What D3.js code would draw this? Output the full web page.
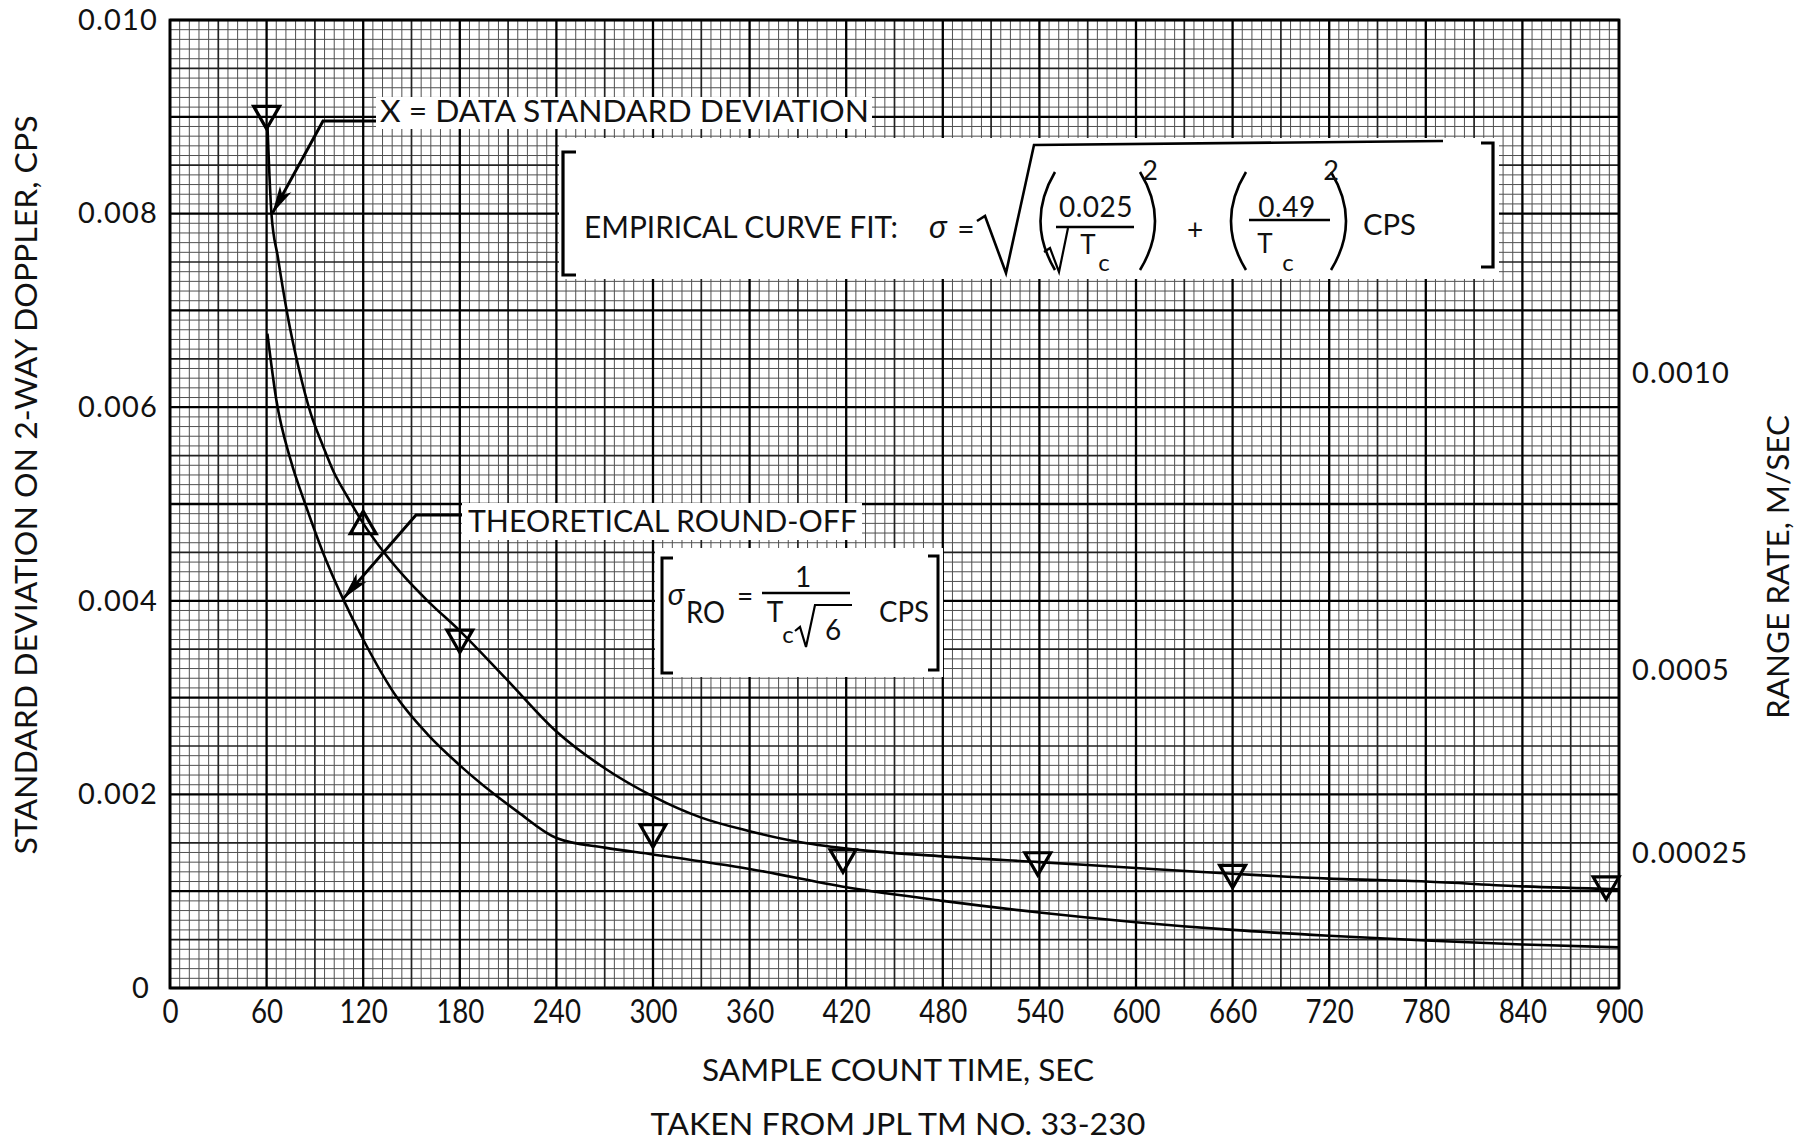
<!DOCTYPE html>
<html><head><meta charset="utf-8">
<script src="https://cdn.jsdelivr.net/npm/d3@7"></script>
<style>
body{margin:0;background:#fff}
svg{display:block}
text{font-family:Lato,"Noto Sans",sans-serif;fill:#111}
</style></head><body>
<svg id="chart" width="1805" height="1142"></svg>
<script>
// ---------- data ----------
const xTicks = [0,60,120,180,240,300,360,420,480,540,600,660,720,780,840,900];
const yTicks = [0,0.002,0.004,0.006,0.008,0.010];
const yTickLabels = ["0","0.002","0.004","0.006","0.008","0.010"];
const rightTickLabels = ["0.0010","0.0005","0.00025"];
const rightTickCps = [0.00636,0.00329,0.00140];   // CPS level at which each range-rate label sits

const empT     = [60.5,61.5,63,67,73,80,87.5,95,102,110,120,132,145,160,180,209,240,270,300,330,360,390,420,480,540,600,660,720,780,840,900];
const empSigma = [0.00892,0.00850,0.00800,0.00755,0.00695,0.00640,0.00593,0.00560,0.00532,0.00508,0.00480,0.00452,0.00426,0.00400,0.00369,0.00319,0.00265,0.00227,0.00198,0.00176,0.00162,0.00151,0.00144,0.00136,0.00130,0.00124,0.00118,0.00113,0.00110,0.00105,0.00102];

const theoT     = [60.5,66,75,84,95,107.5,120,141,160,180,216,240,270,300,360,420,480,540,600,660,720,780,840,900];
const theoSigma = [0.00676,0.00608,0.00545,0.00500,0.00450,0.00402,0.00360,0.00300,0.00262,0.00230,0.00182,0.00155,0.00145,0.00138,0.00123,0.00104,0.00090,0.00078,0.00068,0.00060,0.00054,0.00049,0.00045,0.00042];

const markerT     = [60,120,180,300,418,539,660,892];
const markerSigma = [0.00903,0.00477,0.00362,0.00161,0.00135,0.00132,0.00119,0.00107];
const markerDir   = ["down","up","down","down","down","down","down","down"];

// ---------- layout ----------
const svg = d3.select("#chart");
const x = d3.scaleLinear().domain([0,900]).range([170,1619]);
const y = d3.scaleLinear().domain([0,0.010]).range([988,20]);

// ---------- grid ----------
const grid = svg.append("g");
const minorX = d3.range(0,900.001,6), minorY = d3.range(0,0.0100001,0.0001);
function level(i){ return i%10===0 ? 2 : (i%5===0 ? 1 : 0); }
const styles = [{c:"#505050",w:1},{c:"#222",w:1.7},{c:"#000",w:2.3}];
[0,1,2].forEach(L=>{
  minorX.forEach((v,i)=>{ if(level(i)!==L) return;
    grid.append("line").attr("x1",x(v)).attr("x2",x(v)).attr("y1",y(0)).attr("y2",y(0.010))
      .attr("stroke",styles[L].c).attr("stroke-width",styles[L].w);
  });
  minorY.forEach((v,i)=>{ if(level(i)!==L) return;
    grid.append("line").attr("y1",y(v)).attr("y2",y(v)).attr("x1",x(0)).attr("x2",x(900))
      .attr("stroke",styles[L].c).attr("stroke-width",styles[L].w);
  });
});
svg.append("rect").attr("x",x(0)).attr("y",y(0.010)).attr("width",x(900)-x(0)).attr("height",y(0)-y(0.010))
  .attr("fill","none").attr("stroke","#000").attr("stroke-width",2.8);

// ---------- axes ----------
const gx = svg.append("g").attr("transform",`translate(0,${y(0)})`)
  .call(d3.axisBottom(x).tickValues(xTicks).tickSize(0).tickFormat(d3.format("d")));
gx.select(".domain").remove();
gx.selectAll("text").attr("y",35).attr("dy",null).attr("font-size",33)
  .attr("transform","scale(0.84,1)").style("font-family","Lato,'Noto Sans',sans-serif").attr("fill","#111");

const gy = svg.append("g").attr("transform",`translate(${x(0)},0)`)
  .call(d3.axisLeft(y).tickValues(yTicks).tickSize(0).tickPadding(12).tickFormat((d,i)=>yTickLabels[i]));
gy.select(".domain").remove();
gy.selectAll("text").attr("font-size",29).attr("letter-spacing",1.2)
  .style("font-family","Lato,'Noto Sans',sans-serif").attr("fill","#111")
  .attr("dx",(d,i)=>i===0?-8:0);

const gr = svg.append("g");
gr.selectAll("text").data(rightTickLabels).join("text")
  .attr("x",x(900)+13).attr("y",(d,i)=>y(rightTickCps[i])).attr("dy","0.36em")
  .attr("font-size",29).attr("letter-spacing",1.2).text(d=>d);

// titles
svg.append("text").attr("x",898).attr("y",1081).attr("text-anchor","middle").attr("font-size",30)
  .attr("textLength",392).attr("lengthAdjust","spacingAndGlyphs").text("SAMPLE COUNT TIME,  SEC");
svg.append("text").attr("x",898).attr("y",1135).attr("text-anchor","middle").attr("font-size",30)
  .attr("textLength",495).attr("lengthAdjust","spacingAndGlyphs").text("TAKEN FROM JPL TM NO. 33-230");
svg.append("text").attr("transform","translate(37,485) rotate(-90)").attr("text-anchor","middle").attr("font-size",30)
  .attr("textLength",739).attr("lengthAdjust","spacingAndGlyphs").text("STANDARD DEVIATION ON 2-WAY DOPPLER,  CPS");
svg.append("text").attr("transform","translate(1789,567) rotate(-90)").attr("text-anchor","middle").attr("font-size",30)
  .attr("textLength",304).attr("lengthAdjust","spacingAndGlyphs").text("RANGE RATE,  M/SEC");

// ---------- curves ----------
const line = d3.line().x(d=>x(d[0])).y(d=>y(d[1])).curve(d3.curveMonotoneX);
svg.append("path").datum(empT.map((t,i)=>[t,empSigma[i]])).attr("d",line)
  .attr("fill","none").attr("stroke","#000").attr("stroke-width",2.6).attr("stroke-linejoin","round");
svg.append("path").datum(theoT.map((t,i)=>[t,theoSigma[i]])).attr("d",line)
  .attr("fill","none").attr("stroke","#000").attr("stroke-width",2.6).attr("stroke-linejoin","round");

// ---------- markers ----------
const sym = d3.symbol().type(d3.symbolTriangle).size(290);
svg.append("g").selectAll("path").data(markerT).join("path")
  .attr("d",sym)
  .attr("transform",(d,i)=>`translate(${x(d)},${y(markerSigma[i])}) rotate(${markerDir[i]==="down"?180:0})`)
  .attr("fill","none").attr("stroke","#000").attr("stroke-width",3.2).attr("stroke-linejoin","miter");

// ---------- annotations ----------
function leader(tip, elbow, end){
  svg.append("path").attr("d",`M${end[0]},${end[1]}H${elbow[0]}L${tip[0]},${tip[1]}`)
    .attr("fill","none").attr("stroke","#000").attr("stroke-width",3);
  const dx=elbow[0]-tip[0], dy=elbow[1]-tip[1], L=Math.hypot(dx,dy), ux=dx/L, uy=dy/L, nx=-uy, ny=ux;
  const a=28, w=6.5;
  svg.append("path").attr("d",`M${tip[0]},${tip[1]}L${tip[0]+ux*a+nx*w},${tip[1]+uy*a+ny*w}L${tip[0]+ux*a*0.75},${tip[1]+uy*a*0.75}L${tip[0]+ux*a-nx*w},${tip[1]+uy*a-ny*w}Z`)
    .attr("fill","#000");
}
// data standard deviation label
svg.append("rect").attr("x",376).attr("y",97).attr("width",496).attr("height",32).attr("fill","#fff");
svg.append("text").attr("x",380).attr("y",122).attr("font-size",30).attr("textLength",489)
  .attr("lengthAdjust","spacingAndGlyphs").text("X = DATA STANDARD DEVIATION");
leader([x(63.5),y(0.0080)],[323,121],[376,121]);

// theoretical label
svg.append("rect").attr("x",462).attr("y",503).attr("width",400).attr("height",37).attr("fill","#fff");
svg.append("text").attr("x",468).attr("y",532).attr("font-size",30).attr("textLength",389)
  .attr("lengthAdjust","spacingAndGlyphs").text("THEORETICAL ROUND-OFF");
leader([x(107.5),y(0.00402)],[416,515],[462,515]);

function stroke(d,w){ svg.append("path").attr("d",d).attr("fill","none").attr("stroke","#000").attr("stroke-width",w||2.6); }
function txt(x0,y0,s,size,anchor,extra){
  const t=svg.append("text").attr("x",x0).attr("y",y0).attr("font-size",size).attr("text-anchor",anchor||"start").text(s);
  if(extra) extra(t); return t;
}
// empirical formula box
svg.append("rect").attr("x",559).attr("y",138).attr("width",940).attr("height",141).attr("fill","#fff");
stroke("M576,152H563V275H576",3.2);
stroke("M1481,143H1493V267H1481",3.2);
txt(584,238,"EMPIRICAL CURVE FIT:",30,"start",t=>t.attr("textLength",314).attr("lengthAdjust","spacingAndGlyphs"));
txt(938,238,"σ",32,"middle",t=>t.attr("font-style","italic"));
txt(966,240,"=",30,"middle");
stroke("M977,221L985,216L1006,273L1034,145L1443,141",2.6);
stroke("M1055,172Q1026,221 1055,270",2.6);
txt(1096,217,"0.025",28,"middle",t=>t.attr("letter-spacing",0.5));
stroke("M1056,227H1134",2.4);
stroke("M1044,252L1050,248L1059,272L1068,228",2.2);
txt(1088,254,"T",26,"middle");
txt(1104,271,"c",24,"middle");
stroke("M1140,172Q1170,221 1140,270",2.6);
txt(1150,180,"2",27,"middle");
txt(1195,240,"+",28,"middle");
stroke("M1246,172Q1216,221 1246,270",2.6);
txt(1287,217,"0.49",28,"middle",t=>t.attr("letter-spacing",0.5));
stroke("M1249,220H1330",2.4);
txt(1265,253,"T",26,"middle");
txt(1288,271,"c",24,"middle");
stroke("M1331,172Q1361,221 1331,270",2.6);
txt(1331,180,"2",27,"middle");
txt(1363,235,"CPS",28,"start",t=>t.attr("textLength",53).attr("lengthAdjust","spacingAndGlyphs"));

// theoretical formula box
svg.append("rect").attr("x",655).attr("y",548).attr("width",288).attr("height",129).attr("fill","#fff");
stroke("M673,558H662V673H673",3);
stroke("M928,556H938V670H928",3);
txt(676,605,"σ",30,"middle",t=>t.attr("font-style","italic"));
txt(686,623,"RO",30,"start",t=>t.attr("textLength",39).attr("lengthAdjust","spacingAndGlyphs"));
txt(745,606,"=",28,"middle");
txt(803,587,"1",28,"middle");
stroke("M762,593H850",2.4);
txt(775,622,"T",28,"middle");
txt(788,643,"c",24,"middle");
stroke("M795,631L800,627L806,647L815,605L852,605",2.2);
txt(833,640,"6",28,"middle");
txt(879,622,"CPS",28,"start",t=>t.attr("textLength",50).attr("lengthAdjust","spacingAndGlyphs"));
</script>
</body></html>
